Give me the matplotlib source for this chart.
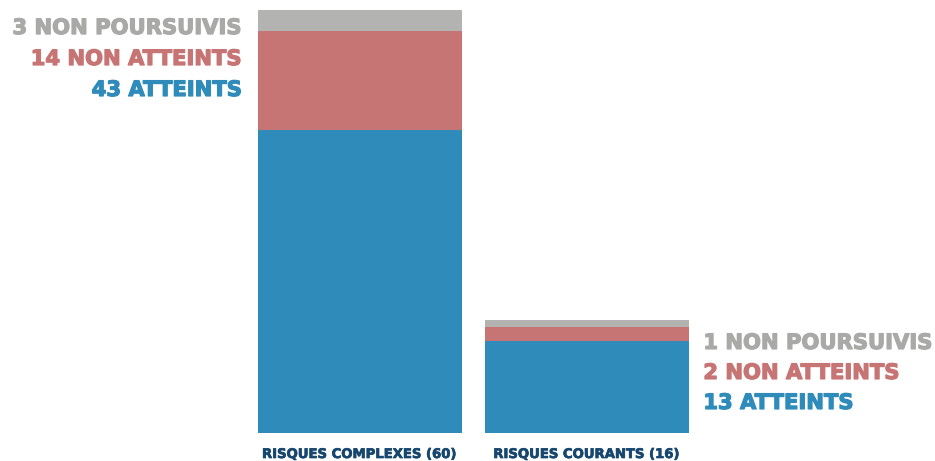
import matplotlib
matplotlib.use("Agg")
import matplotlib.pyplot as plt
import matplotlib.patheffects as pe

categories = ["RISQUES COMPLEXES (60)", "RISQUES COURANTS (16)"]
atteints = [43, 13]
non_atteints = [14, 2]
non_poursuivis = [3, 1]
series_names = ["ATTEINTS", "NON ATTEINTS", "NON POURSUIVIS"]

c_blue = "#2E8BBA"
c_red = "#C77574"
c_gray = "#B3B3B1"
c_text_gray = "#A9A9A7"
c_cat = "#17476E"

plt.rcParams['font.family'] = ['DejaVu Sans']

fig = plt.figure(figsize=(9.35, 4.61), dpi=100)
ax = fig.add_axes([0, 28/461, 1, 423/461])
ax.set_xlim(-360/227, (935-360)/227)
ax.set_ylim(0, 60)
ax.axis('off')

x = list(range(len(categories)))
w = 204/227
ax.bar(x, atteints, width=w, color=c_blue)
bottoms2 = atteints
ax.bar(x, non_atteints, width=w, bottom=bottoms2, color=c_red)
bottoms3 = [a + b for a, b in zip(atteints, non_atteints)]
ax.bar(x, non_poursuivis, width=w, bottom=bottoms3, color=c_gray)

totals = [a + b + c for a, b, c in zip(atteints, non_atteints, non_poursuivis)]
fs = 15.2
for i in range(len(categories)):
    lines = [
        (f"{non_poursuivis[i]} NON POURSUIVIS", c_text_gray),
        (f"{non_atteints[i]} NON ATTEINTS", c_red),
        (f"{atteints[i]} ATTEINTS", c_blue),
    ]
    if i == 0:
        xa = x[i] - w/2
        dx = -11.2
        ha = 'right'
        y0 = -17.3
        step = 22.3
    else:
        xa = x[i] + w/2
        dx = 10.3
        ha = 'left'
        y0 = -20.7
        step = 21.6
    for k, (t, col) in enumerate(lines):
        ax.annotate(t, xy=(xa, totals[i]), xytext=(dx, y0 - step*k),
                    textcoords='offset points', ha=ha, va='baseline',
                    fontsize=fs, fontweight='bold', color=col,
                    path_effects=[pe.withStroke(linewidth=0.9, foreground=col)])
    ax.annotate(categories[i], xy=(x[i], 0), xytext=(0, -18),
                textcoords='offset points', ha='center', va='baseline',
                fontsize=9.5, fontweight='bold', color=c_cat,
                path_effects=[pe.withStroke(linewidth=0.5, foreground=c_cat)])

fig.savefig("out.png", dpi=100)
